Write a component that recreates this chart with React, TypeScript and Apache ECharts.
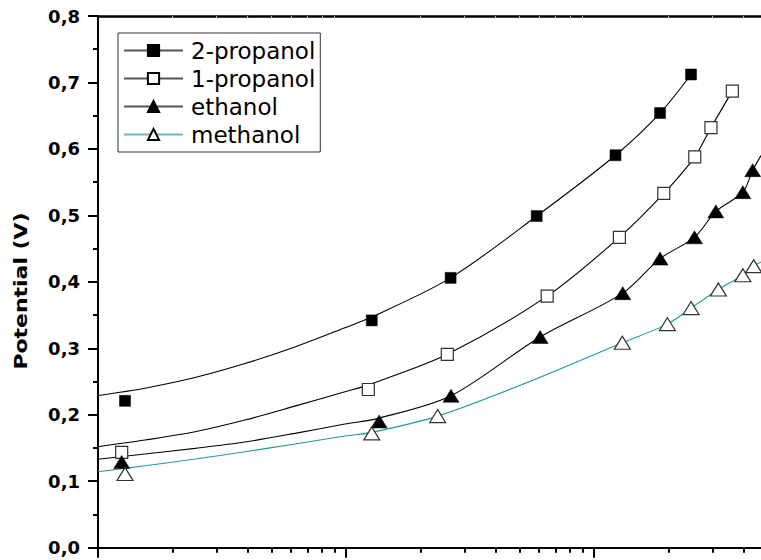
import React, { useEffect, useRef } from 'react';
import * as echarts from 'echarts';

const legendNames = ['2-propanol', '1-propanol', 'ethanol', 'methanol'];

// measured points [x, potential]
const propanol2Points = [[1.285, 0.221], [12.7, 0.342], [26.4, 0.406], [58.7, 0.499], [122, 0.5905], [184.5, 0.654], [246, 0.712]];
const propanol1Points = [[1.246, 0.1435], [12.3, 0.238], [25.6, 0.291], [64.7, 0.3785], [126.5, 0.467], [191, 0.533], [254.7, 0.588], [296, 0.632], [361, 0.687]];
const ethanolPoints = [[1.246, 0.129], [13.6, 0.19], [26.5, 0.2286], [60.6, 0.317], [130.5, 0.383], [184.5, 0.435], [254, 0.467], [309.6, 0.506], [398, 0.535], [436, 0.568]];
const methanolPoints = [[1.285, 0.111], [12.7, 0.172], [23.4, 0.198], [130, 0.3083], [197.5, 0.3364], [246, 0.3605], [317, 0.3886], [398, 0.41], [440, 0.4236]];

// fitted curves
const propanol2Fit = [[1, 0.229], [1.546, 0.24], [2.46, 0.256], [3.91, 0.277], [6.22, 0.302], [9.9, 0.331], [12.7, 0.347], [26.4, 0.406], [58.7, 0.499], [122, 0.5905], [184.5, 0.654], [246, 0.712]];
const propanol1Fit = [[1, 0.152], [1.546, 0.162], [2.46, 0.1744], [3.91, 0.192], [6.22, 0.213], [9.9, 0.2346], [12.3, 0.245], [25.6, 0.291], [64.7, 0.3785], [126.5, 0.467], [191, 0.533], [254.7, 0.588], [296, 0.632], [361, 0.687]];
const ethanolFit = [[1, 0.133], [1.546, 0.141], [2.46, 0.1495], [3.91, 0.159], [6.22, 0.172], [9.9, 0.186], [13.6, 0.195], [26.5, 0.2286], [60.6, 0.317], [130.5, 0.383], [184.5, 0.435], [254, 0.467], [309.6, 0.506], [398, 0.535], [436, 0.568], [471, 0.59]];
const methanolFit = [[1, 0.1143], [1.546, 0.1233], [2.46, 0.1334], [3.91, 0.1444], [6.22, 0.156], [9.9, 0.168], [12.7, 0.1735], [23.4, 0.198], [55, 0.25], [130, 0.3083], [197.5, 0.3364], [246, 0.3605], [317, 0.3886], [398, 0.41], [440, 0.4236], [471, 0.43]];

const majorXTicks = [1, 10, 100];
const minorXTicks = [2, 3, 4, 5, 6, 7, 8, 9, 20, 30, 40, 50, 60, 70, 80, 90, 200, 300, 400];

const xMin = 1;
const xMax = 471;

export default function App() {
  const ref = useRef<HTMLDivElement>(null);
  useEffect(() => {
    const chart = echarts.init(ref.current!, null, { renderer: 'svg' });
    const logBase: any = {
      type: 'log',
      logBase: 10,
      min: xMin,
      max: xMax,
      gridIndex: 0,
      splitLine: { show: false },
      axisLabel: { show: false },
      minorTick: { show: false },
    };
    const teal = '#239a9a';
    const fits = [propanol2Fit, propanol1Fit, ethanolFit, methanolFit];
    const pts = [propanol2Points, propanol1Points, ethanolPoints, methanolPoints];
    const symbols = ['rect', 'rect', 'triangle', 'triangle'];
    const sizes: any[] = [11, 12, [16, 13], [16, 13]];
    const fills = ['#000', '#fff', '#000', '#fff'];
    const lineColors = ['#000', '#000', '#000', teal];
    const legendLineColors = ['#555', '#555', '#555', '#6bbdbd'];

    const series: any[] = [];
    fits.forEach((f, i) => {
      series.push({
        name: legendNames[i],
        type: 'line',
        data: f,
        smooth: 0.3,
        showSymbol: false,
        symbol: symbols[i],
        silent: true,
        z: 2,
        lineStyle: { color: lineColors[i], width: 1.1 },
        itemStyle: { color: fills[i], borderColor: '#000', borderWidth: 1, opacity: 1 },
        emphasis: { disabled: true },
      });
    });
    pts.forEach((p, i) => {
      series.push({
        name: legendNames[i] + ' data',
        type: 'scatter',
        data: p,
        symbol: symbols[i],
        symbolSize: sizes[i],
        silent: true,
        z: 3,
        itemStyle: {
          color: fills[i],
          borderColor: fills[i] === '#fff' ? '#333' : '#000',
          borderWidth: fills[i] === '#fff' ? 1.2 : 0.5,
          opacity: 1,
        },
        emphasis: { disabled: true },
      });
    });

    chart.setOption({
      animation: false,
      grid: { left: 98, right: 0, top: 16, bottom: 12.3, containLabel: false, outerBoundsMode: 'none' },
      legend: {
        orient: 'vertical',
        left: 118,
        top: 33,
        data: legendNames.map((n, i) => ({ name: n, lineStyle: { color: legendLineColors[i] } })),
        itemWidth: 59,
        itemHeight: 14,
        itemGap: 5,
        padding: [6, 5, 6, 5],
        borderColor: '#333',
        borderWidth: 1,
        backgroundColor: '#fff',
        selectedMode: false,
        textStyle: { fontFamily: 'DejaVu Sans', fontSize: 23, color: '#000', padding: [0, 0, 0, 3] },
      },
      xAxis: [
        {
          ...logBase,
          position: 'bottom',
          axisLine: { show: true, onZero: false, lineStyle: { color: '#000', width: 2 } },
          axisTick: { show: true, customValues: majorXTicks, length: 10, lineStyle: { color: '#000', width: 2 } },
        },
        {
          ...logBase,
          position: 'bottom',
          axisLine: { show: false, onZero: false },
          axisTick: { show: true, customValues: minorXTicks, length: 5, lineStyle: { color: '#000', width: 2 } },
        },
        {
          ...logBase,
          position: 'top',
          axisLine: { show: true, onZero: false, lineStyle: { color: '#000', width: 2.5 } },
          axisTick: { show: true, inside: true, customValues: minorXTicks, length: 2, lineStyle: { color: '#bbb', width: 1 } },
        },
      ],
      yAxis: {
        type: 'value',
        min: 0,
        max: 0.8,
        interval: 0.1,
        axisLine: { show: true, onZero: false, lineStyle: { color: '#000', width: 2 } },
        axisTick: { show: true, length: 10, lineStyle: { color: '#000', width: 2 } },
        minorTick: { show: true, splitNumber: 2, length: 5, lineStyle: { color: '#000', width: 2 } },
        splitLine: { show: false },
        axisLabel: {
          margin: 18,
          fontFamily: 'DejaVu Sans',
          fontWeight: 'bold',
          fontSize: 18,
          color: '#000',
          formatter: (v: number) => v.toFixed(1).replace('.', ','),
        },
      },
      graphic: [
        {
          type: 'text',
          x: 21,
          y: 291,
          rotation: Math.PI / 2,
          scaleX: 1.22,
          style: {
            text: 'Potential (V)',
            font: 'bold 18px "DejaVu Sans"',
            fill: '#000',
            align: 'center',
            verticalAlign: 'middle',
          },
        },
      ],
      series,
    });
    return () => chart.dispose();
  }, []);
  return <div ref={ref} style={{ position: 'absolute', left: 0, top: 0, width: 761, height: 560 }} />;
}
